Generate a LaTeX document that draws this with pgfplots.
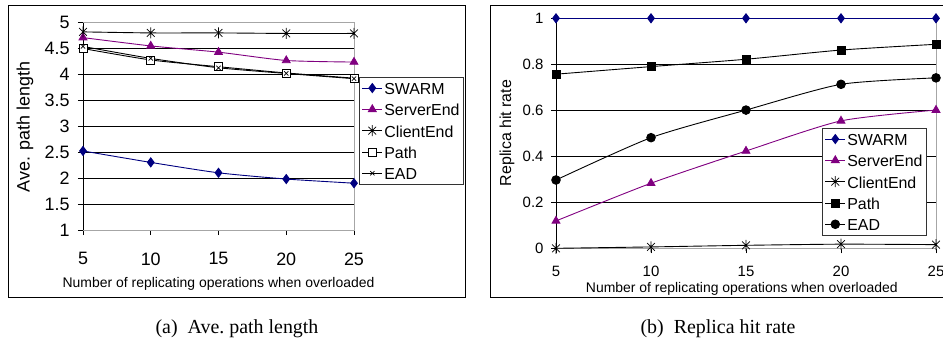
\documentclass[border=0pt]{standalone}
\usepackage{fontspec}
\setmainfont{Liberation Sans}
\newfontfamily\timesfont{Liberation Serif}
\usepackage{pgfplots}
\pgfplotsset{compat=1.18}
\definecolor{navyc}{HTML}{000080}
\definecolor{purplec}{HTML}{800080}
\pgfdeclareplotmark{xstar}{%
  \pgfpathmoveto{\pgfqpoint{0pt}{\pgfplotmarksize}}%
  \pgfpathlineto{\pgfqpoint{0pt}{-\pgfplotmarksize}}%
  \pgfpathmoveto{\pgfqpoint{.7071\pgfplotmarksize}{.7071\pgfplotmarksize}}%
  \pgfpathlineto{\pgfqpoint{-.7071\pgfplotmarksize}{-.7071\pgfplotmarksize}}%
  \pgfpathmoveto{\pgfqpoint{-.7071\pgfplotmarksize}{.7071\pgfplotmarksize}}%
  \pgfpathlineto{\pgfqpoint{.7071\pgfplotmarksize}{-.7071\pgfplotmarksize}}%
  \pgfusepathqstroke}
\begin{document}
\begin{tikzpicture}
\path[use as bounding box] (0,0) rectangle (943bp,-341bp);
\draw[line width=0.8bp] (8bp,-5bp) rectangle (465bp,-297bp);
\draw[line width=0.8bp] (490bp,-5bp) rectangle (960bp,-297bp);
\pgfplotsset{common/.style={
  scale only axis, anchor=south west,
  xmin=5, xmax=25, xtick={5,10,15,20,25},
  /pgf/number format/assume math mode=true,
  axis line style={gray!70, line width=0.7bp},
  tick style={black, line width=0.6bp},
  tick align=outside, tick pos=left, major tick length=5bp,
  ymajorgrids, grid style={black, line width=0.6bp},
  legend cell align=left,
  legend image code/.code={\draw[mark repeat=2,mark phase=2] plot coordinates {(0bp,0bp) (10bp,0bp) (20bp,0bp)};},
  legend style={draw=black!80, line width=0.7bp, fill=white, anchor=north west,
    font=\fontsize{16}{16}\selectfont, inner xsep=2.5bp, inner ysep=1.7bp, row sep=3.3bp,
    nodes={inner sep=1.5bp, text height=14bp, text depth=1bp}},
  every axis plot/.append style={line width=0.9bp, smooth, tension=0.4},
}}
% ---------------- left panel ----------------
\begin{axis}[common,
  at={(83bp,-230bp)}, width=271bp, height=208bp,
  ymin=1, ymax=5, ytick={1,1.5,...,5},
  yticklabels={1,1.5,2,2.5,3,3.5,4,4.5,5},
  xticklabel style={font=\fontsize{18}{18}\selectfont, yshift=-14bp},
  yticklabel style={font=\fontsize{18}{18}\selectfont, xshift=-5bp},
  xlabel={Number of replicating operations when overloaded},
  xlabel style={font=\fontsize{14}{14}\selectfont, inner sep=0bp, at={(axis description cs:0.5,-0.26)}, anchor=center},
  ylabel={Ave. path length},
  ylabel style={font=\fontsize{18}{18}\selectfont, at={(axis description cs:-0.214,0.495)}, anchor=center},
  legend style={at={(axis description cs:1.0185,0.7356)}},
]
\draw[black, line width=0.8bp] (axis cs:5,1) -- (axis cs:5,5);
\draw[gray!70, line width=0.8bp] (axis cs:5,5) -- (axis cs:25,5);
\addplot[navyc, mark=diamond*, mark size=4.5bp, mark options={fill=navyc, solid}] coordinates {(5,2.52)(10,2.30)(15,2.10)(20,1.98)(25,1.90)};
\addlegendentry{SWARM}
\addplot[purplec, mark=triangle*, mark size=4.5bp, mark options={fill=purplec}] coordinates {(5,4.70)(10,4.54)(15,4.42)(20,4.26)(25,4.23)};
\addlegendentry{ServerEnd}
\addplot[black, mark=xstar, mark size=5.5bp, mark options={line width=0.7bp}] coordinates {(5,4.81)(10,4.79)(15,4.79)(20,4.78)(25,4.78)};
\addlegendentry{ClientEnd}
\addplot[black, mark=square*, mark size=4bp, mark options={fill=white, line width=0.7bp}] coordinates {(5,4.49)(10,4.27)(15,4.14)(20,4.02)(25,3.92)};
\addlegendentry{Path}
\addplot[black, mark=x, mark size=3bp, mark options={line width=0.7bp}] coordinates {(5,4.53)(10,4.30)(15,4.12)(20,4.01)(25,3.91)};
\addlegendentry{EAD}
\end{axis}
% ---------------- right panel ----------------
\begin{axis}[common,
  at={(556bp,-248.3bp)}, width=380bp, height=230bp,
  ymin=0, ymax=1, ytick={0,0.2,0.4,0.6,0.8,1},
  yticklabels={0,0.2,0.4,0.6,0.8,1},
  xticklabel style={font=\fontsize{15}{15}\selectfont, yshift=-9.5bp},
  yticklabel style={font=\fontsize{15}{15}\selectfont, xshift=-4bp},
  xlabel={Number of replicating operations when overloaded},
  xlabel style={font=\fontsize{14}{14}\selectfont, inner sep=0bp, at={(axis description cs:0.489,-0.176)}, anchor=center},
  ylabel={Replica hit rate},
  ylabel style={font=\fontsize{16}{16}\selectfont, at={(axis description cs:-0.129,0.501)}, anchor=center},
  legend style={at={(axis description cs:0.7,0.523)}},
]
\draw[black, line width=0.8bp] (axis cs:5,0) -- (axis cs:5,1);
\addplot[navyc, mark=diamond*, mark size=4.5bp, mark options={fill=navyc}] coordinates {(5,1)(10,1)(15,1)(20,1)(25,1)};
\addlegendentry{SWARM}
\addplot[purplec, mark=triangle*, mark size=4.5bp, mark options={fill=purplec}] coordinates {(5,0.119)(10,0.283)(15,0.423)(20,0.554)(25,0.601)};
\addlegendentry{ServerEnd}
\addplot[black, mark=xstar, mark size=5.5bp, mark options={line width=0.7bp}] coordinates {(5,0.0)(10,0.006)(15,0.013)(20,0.018)(25,0.016)};
\addlegendentry{ClientEnd}
\addplot[black, mark=square*, mark size=4bp, mark options={fill=black}] coordinates {(5,0.757)(10,0.790)(15,0.822)(20,0.862)(25,0.887)};
\addlegendentry{Path}
\addplot[black, mark=*, mark size=4.3bp, mark options={fill=black}] coordinates {(5,0.297)(10,0.481)(15,0.601)(20,0.713)(25,0.741)};
\addlegendentry{EAD}
\end{axis}
\node[font=\timesfont\fontsize{20}{20}\selectfont, anchor=base] at (237bp,-333bp) {(a)~~Ave.\ path length};
\node[font=\timesfont\fontsize{20}{20}\selectfont, anchor=base] at (718bp,-333bp) {(b)~~Replica hit rate};
\end{tikzpicture}
\end{document}
